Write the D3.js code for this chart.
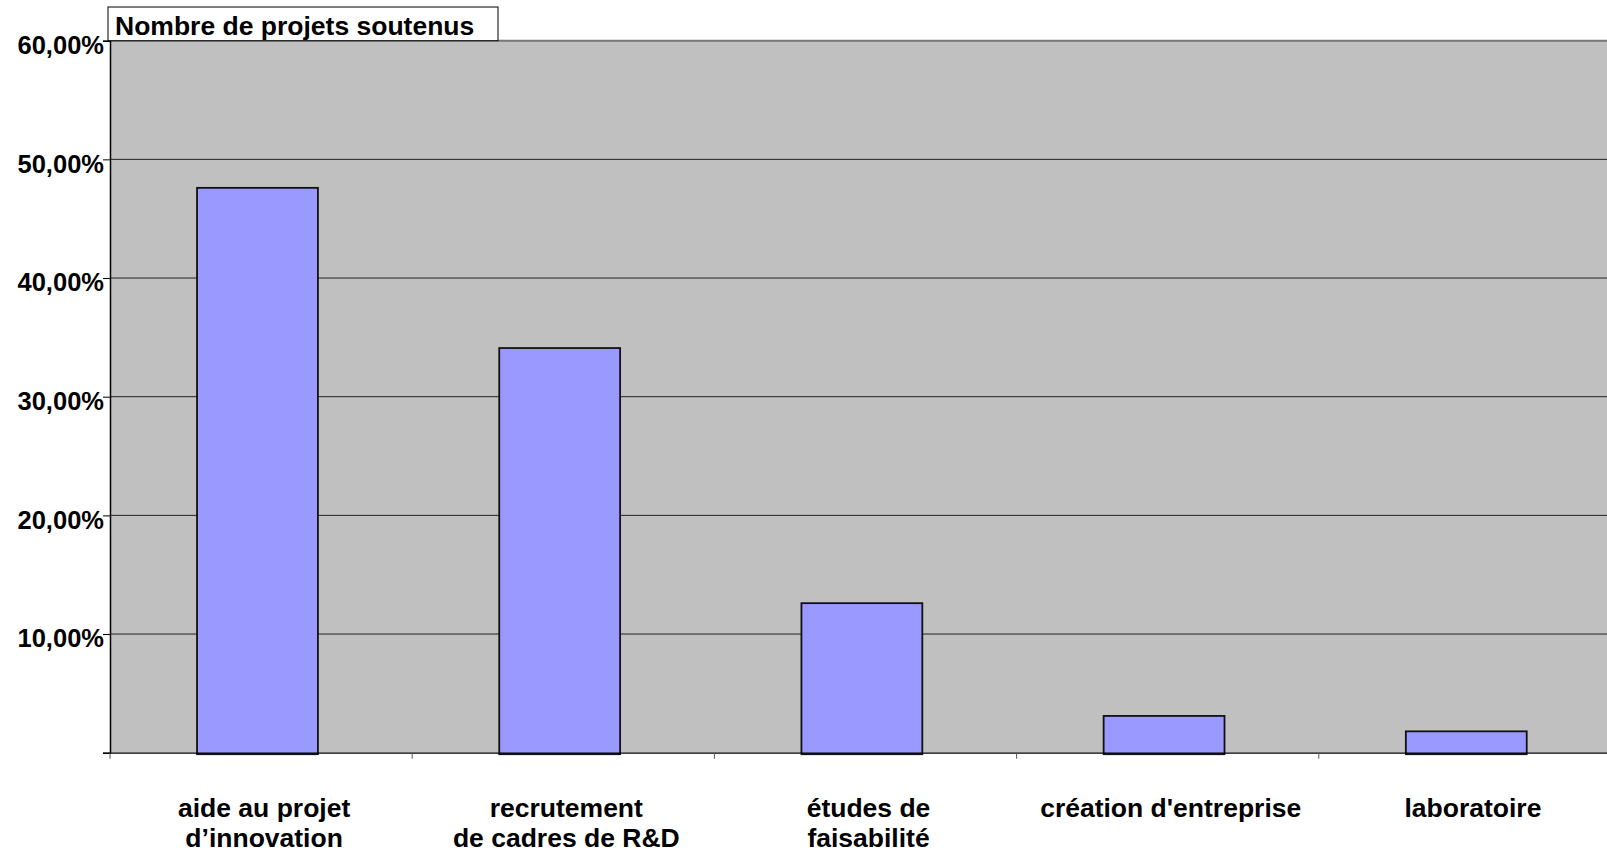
<!DOCTYPE html>
<html lang="fr">
<head>
    <meta charset="UTF-8">
    <title>Nombre de projets soutenus</title>
    <script src="https://d3js.org/d3.v7.min.js"></script>
    <style>
        body { margin: 0; background: #fff; overflow: hidden; }
        text { font-family: "Liberation Sans", Arial, sans-serif; font-weight: bold; fill: #000; }
    </style>
</head>
<body>
    <div id="chart"></div>
    <script>
        // data
        const categories = [
            ["aide au projet", "d\u2019innovation"],
            ["recrutement", "de cadres de R&D"],
            ["études de", "faisabilité"],
            ["création d'entreprise"],
            ["laboratoire"]
        ];
        const values = [47.6, 34.1, 12.6, 3.1, 1.8];
        const yTicks = [0, 10, 20, 30, 40, 50, 60];
        const title = "Nombre de projets soutenus";

        const W = 1607, H = 853;
        const plotLeft = 110, plotTop = 40.7, plotBottom = 752.7, plotRight = 1621;

        const svg = d3.select("#chart").append("svg")
            .attr("width", W)
            .attr("height", H);

        const x = d3.scaleBand()
            .domain(d3.range(categories.length))
            .range([plotLeft, plotRight])
            .padding(0);

        const y = d3.scaleLinear()
            .domain([0, 60])
            .range([plotBottom, plotTop]);

        // plot background
        svg.append("rect")
            .attr("x", plotLeft).attr("y", plotTop)
            .attr("width", plotRight - plotLeft).attr("height", plotBottom - plotTop)
            .attr("fill", "#c0c0c0");

        // gridlines
        svg.append("g")
            .selectAll("line")
            .data(yTicks.filter(d => d > 0))
            .enter()
            .append("line")
            .attr("x1", plotLeft).attr("x2", plotRight)
            .attr("y1", d => y(d)).attr("y2", d => y(d))
            .attr("stroke", d => d === 60 ? "#777" : "#222")
            .attr("stroke-width", d => d === 60 ? 2 : 1);

        // bars
        const bw = x.bandwidth() * 0.4;
        svg.append("g")
            .selectAll("rect")
            .data(values)
            .enter()
            .append("rect")
            .attr("x", (d, i) => x(i) + x.bandwidth() * 0.288)
            .attr("y", d => y(d))
            .attr("width", bw)
            .attr("height", d => y(0) - y(d) + 1.5)
            .attr("fill", "#9999ff")
            .attr("stroke", "#111")
            .attr("stroke-width", 1.8);

        // y axis
        const yAxis = d3.axisLeft(y)
            .tickValues(yTicks)
            .tickSize(7)
            .tickFormat(d => d === 0 ? "" : d3.format(".2f")(d).replace(".", ",") + "%");
        const gy = svg.append("g")
            .attr("transform", `translate(${plotLeft},0)`)
            .call(yAxis);
        gy.select(".domain").attr("stroke", "#000").attr("stroke-width", 1.5);
        gy.selectAll(".tick line").attr("stroke", "#000");
        gy.selectAll(".tick text")
            .attr("x", -6)
            .attr("dy", "0.5em")
            .style("font-size", "25.5px")
            .style("font-family", "'Liberation Sans', Arial, sans-serif")
            .style("font-weight", "bold");

        // x axis
        const xAxis = d3.axisBottom(x).tickSize(0).tickFormat("");
        const gx = svg.append("g")
            .attr("transform", `translate(0,${plotBottom})`)
            .call(xAxis);
        gx.select(".domain").attr("stroke", "#000").attr("stroke-width", 1.2);
        gx.selectAll(".tick").remove();

        // category boundary ticks
        gx.selectAll("line.sep")
            .data(d3.range(categories.length))
            .enter()
            .append("line")
            .attr("class", "sep")
            .attr("x1", i => x(i)).attr("x2", i => x(i))
            .attr("y1", 0).attr("y2", 6)
            .attr("stroke", "#555");

        // category labels
        const lbl = svg.append("g")
            .selectAll("text")
            .data(categories)
            .enter()
            .append("text")
            .attr("text-anchor", "middle")
            .style("font-size", "26.5px")
            .attr("transform", (d, i) => `translate(${x(i) + x.bandwidth() / 2 + 3},817)`);
        lbl.selectAll("tspan")
            .data(d => d)
            .enter()
            .append("tspan")
            .attr("x", 0)
            .attr("y", (d, j) => j * 30)
            .text(d => d);

        // title box
        svg.append("rect")
            .attr("x", 108).attr("y", 7)
            .attr("width", 390).attr("height", plotTop - 7)
            .attr("fill", "#fff")
            .attr("stroke", "#000")
            .attr("stroke-width", 1);
        svg.append("text")
            .attr("x", 115).attr("y", 35)
            .style("font-size", "26.5px")
            .text(title);
    </script>
</body>
</html>
